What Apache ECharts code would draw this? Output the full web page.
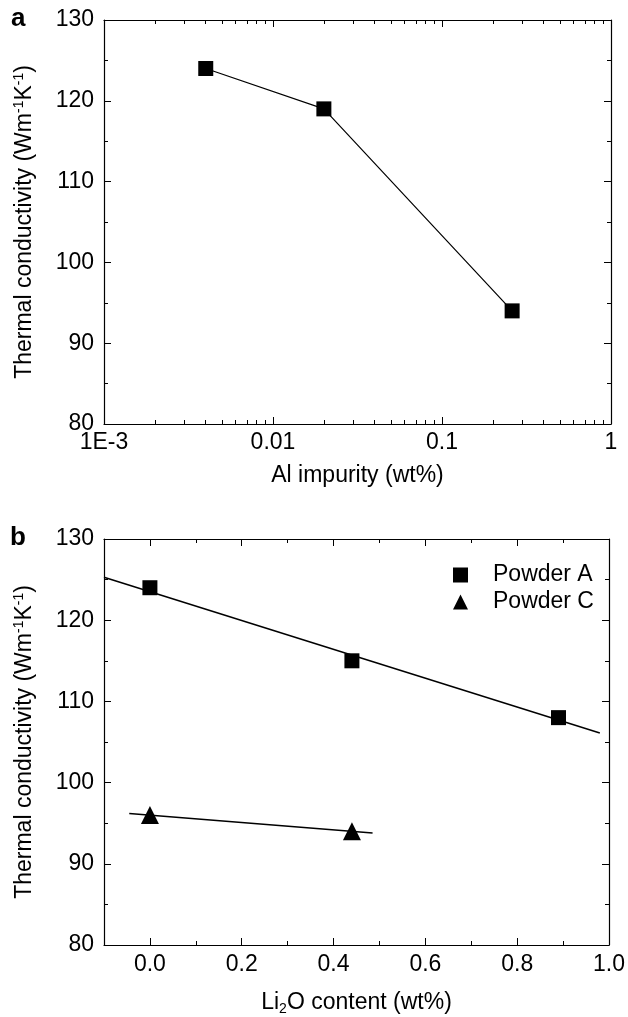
<!DOCTYPE html>
<html><head><meta charset="utf-8">
<script src="https://cdn.jsdelivr.net/npm/echarts@6/dist/echarts.min.js"></script>
<style>html,body{margin:0;padding:0;background:#fff}#c{width:628px;height:1017px}</style>
</head><body><div id="c"></div>
<script>
// Panel a
const alImpurity = [0.004, 0.02, 0.26];
const conductivityVsAl = [124, 119, 94];
const logTickValues = [0.001, 0.01, 0.1, 1];
const logTickLabels = ['1E-3', '0.01', '0.1', '1'];
const logMinorTicks = [0.002,0.003,0.004,0.005,0.006,0.007,0.008,0.009,
                       0.02,0.03,0.04,0.05,0.06,0.07,0.08,0.09,
                       0.2,0.3,0.4,0.5,0.6,0.7,0.8,0.9];
// Panel b
const li2oA = [0, 0.44, 0.89];
const powderA = [124, 115, 108];
const li2oC = [0, 0.44];
const powderC = [96, 94];
const fitLineA = [[-0.1, 125.3], [0.98, 106.1]];
const fitLineC = [[-0.045, 96.2], [0.485, 93.8]];
const liMajorTicks = [0, 0.2, 0.4, 0.6, 0.8, 1.0];
const liMinorTicks = [0.1, 0.3, 0.5, 0.7, 0.9];
const yMin = 80, yMax = 130, yStep = 10;

const FONT = 'Liberation Sans, Arial, sans-serif';
const FS = 23;
const black = '#000';
const line = {show: true, onZero: false, lineStyle: {color: black, width: 1.2}};
const noLine = {show: false, onZero: false};

function logLabel(v) {
  let best = 0, d = Infinity;
  logTickValues.forEach((t, i) => { const dd = Math.abs(Math.log10(v) - Math.log10(t)); if (dd < d) { d = dd; best = i; } });
  return logTickLabels[best];
}

const yName = {
  name: 'Thermal conductivity (Wm{s|-1}K{s|-1})',
  nameLocation: 'middle', nameGap: 66,
  nameTextStyle: {fontFamily: FONT, fontSize: FS, color: black, lineHeight: 26,
    rich: {s: {fontFamily: FONT, fontSize: 14, color: black, verticalAlign: 'top', lineHeight: 26}}}
};

function yAxes(grid) {
  return [
    Object.assign({type: 'value', gridIndex: grid, position: 'left', min: yMin, max: yMax, interval: yStep,
      axisLine: line, splitLine: {show: false},
      axisTick: {inside: true, length: 7, lineStyle: {color: black}},
      minorTick: {show: true, splitNumber: 2, length: 4, lineStyle: {color: black}},
      axisLabel: {fontFamily: FONT, fontSize: FS, color: black, margin: 10}}, yName),
    {type: 'value', gridIndex: grid, position: 'right', min: yMin, max: yMax, interval: yStep,
      axisLine: line, splitLine: {show: false},
      axisTick: {inside: true, length: 7, lineStyle: {color: black}},
      minorTick: {show: true, splitNumber: 2, length: 4, lineStyle: {color: black}},
      axisLabel: {show: false}}
  ];
}

function logAxis(pos, main, minor) {
  return {type: 'log', logBase: 10, gridIndex: 0, position: pos, min: 0.001, max: 1,
    axisLine: main ? line : noLine, splitLine: {show: false},
    axisTick: minor ? {inside: true, length: 4, customValues: logMinorTicks, lineStyle: {color: black}}
                    : {inside: true, length: 7, lineStyle: {color: black}},
    axisLabel: (main && pos === 'bottom') ? {fontFamily: FONT, fontSize: FS, color: black, margin: 7, formatter: logLabel} : {show: false}};
}
function liAxis(pos, main, minor) {
  return {type: 'value', gridIndex: 1, position: pos, min: -0.1, max: 1.0,
    axisLine: main ? line : noLine, splitLine: {show: false},
    axisTick: {inside: true, length: minor ? 4 : 7, customValues: minor ? liMinorTicks : liMajorTicks, lineStyle: {color: black}},
    axisLabel: (main && pos === 'bottom') ? {fontFamily: FONT, fontSize: FS, color: black, margin: 8,
      customValues: liMajorTicks, formatter: v => v.toFixed(1)} : {show: false}};
}

const xA = logAxis('bottom', true, false);
xA.name = 'Al impurity (wt%)'; xA.nameLocation = 'middle'; xA.nameGap = 40;
xA.nameTextStyle = {fontFamily: FONT, fontSize: FS, color: black};
const xB = liAxis('bottom', true, false);
xB.name = 'Li{b|2}O content (wt%)'; xB.nameLocation = 'middle'; xB.nameGap = 45;
xB.nameTextStyle = {fontFamily: FONT, fontSize: FS, color: black, lineHeight: 26,
  rich: {b: {fontFamily: FONT, fontSize: 14, color: black, verticalAlign: 'bottom', lineHeight: 26}}};

const option = {
  animation: false,
  backgroundColor: '#fff',
  grid: [
    {left: 104, top: 20, width: 507, height: 404},
    {left: 104, top: 539, width: 507, height: 407}
  ],
  xAxis: [
    xA, logAxis('bottom', false, true), logAxis('top', true, false), logAxis('top', false, true),
    xB, liAxis('bottom', false, true), liAxis('top', true, false), liAxis('top', false, true)
  ],
  yAxis: yAxes(0).concat(yAxes(1)),
  legend: {
    left: 448, top: 558, orient: 'vertical', itemWidth: 15, itemHeight: 15, itemGap: 3,
    data: [{name: 'Powder A', icon: 'rect'}, {name: 'Powder C', icon: 'triangle'}],
    itemStyle: {opacity: 1, color: black},
    textStyle: {fontFamily: FONT, fontSize: FS, color: black, lineHeight: 24, padding: [0, 0, 0, 20]}
  },
  graphic: [
    {type: 'text', left: 11, top: 6, style: {text: 'a', font: 'bold 26px ' + FONT, fill: black}},
    {type: 'text', left: 10, top: 525, style: {text: 'b', font: 'bold 26px ' + FONT, fill: black}}
  ],
  series: [
    {type: 'line', xAxisIndex: 0, yAxisIndex: 0, data: alImpurity.map((x, i) => [x, conductivityVsAl[i]]),
      symbol: 'rect', symbolSize: 15, lineStyle: {color: black, width: 1.2}, itemStyle: {color: black, opacity: 1}},
    {type: 'line', xAxisIndex: 4, yAxisIndex: 2, data: fitLineA, symbol: 'none',
      lineStyle: {color: black, width: 1.5}},
    {type: 'line', xAxisIndex: 4, yAxisIndex: 2, data: fitLineC, symbol: 'none',
      lineStyle: {color: black, width: 1.5}},
    {name: 'Powder A', type: 'scatter', xAxisIndex: 4, yAxisIndex: 2, data: li2oA.map((x, i) => [x, powderA[i]]),
      symbol: 'rect', symbolSize: 15, itemStyle: {color: black, opacity: 1}},
    {name: 'Powder C', type: 'scatter', xAxisIndex: 4, yAxisIndex: 2, data: li2oC.map((x, i) => [x, powderC[i]]),
      symbol: 'triangle', symbolSize: 18, itemStyle: {color: black, opacity: 1}}
  ]
};
echarts.init(document.getElementById('c'), null, {renderer: 'canvas'}).setOption(option);
</script></body></html>
